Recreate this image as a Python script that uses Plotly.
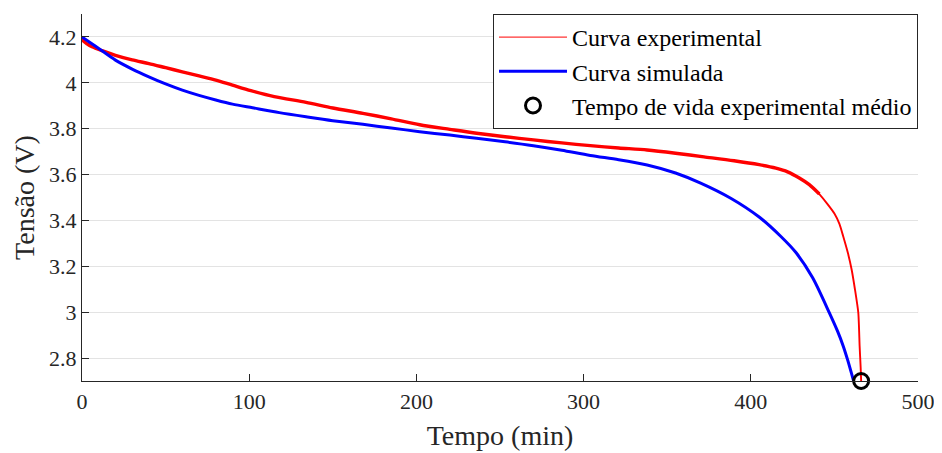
import plotly.graph_objects as go

# Experimental curve: flat/noisy part and steep end
exp_t_a = [0, 0.5, 3, 6, 12, 20, 30, 40, 50, 60, 70, 80, 90, 101, 115, 134, 150, 168, 185, 202,
           220, 236, 253, 270, 287, 304, 321, 338, 355, 372, 390, 405, 415, 422, 429, 435, 441]
exp_v_a = [4.20, 4.185, 4.17, 4.157, 4.14, 4.12, 4.10, 4.084, 4.066, 4.048, 4.03, 4.012, 3.99, 3.966,
           3.94, 3.915, 3.89, 3.867, 3.843, 3.817, 3.797, 3.78, 3.765, 3.751, 3.738, 3.726, 3.716,
           3.707, 3.693, 3.677, 3.66, 3.643, 3.628, 3.612, 3.585, 3.556, 3.515]
exp_t_b = [429, 435, 441, 446, 450, 453, 455.3, 458, 460.3, 462.3, 464.3, 465.1, 465.7, 466]
exp_v_b = [3.585, 3.556, 3.515, 3.47, 3.43, 3.385, 3.33, 3.26, 3.186, 3.099, 2.997, 2.85, 2.76, 2.70]

# Simulated curve
sim_t = [0, 5, 10, 20, 30, 40, 50, 60, 70, 80, 90, 102, 118, 134, 150, 168, 185, 202, 220, 236,
         253, 270, 287, 304, 321, 338, 355, 370, 388, 405, 418, 427, 437, 447, 452, 455.3, 458, 461.5]
sim_v = [4.20, 4.175, 4.15, 4.099, 4.06, 4.026, 3.995, 3.968, 3.945, 3.925, 3.907, 3.891, 3.87,
         3.852, 3.835, 3.819, 3.803, 3.787, 3.772, 3.758, 3.743, 3.726, 3.706, 3.683, 3.665, 3.642,
         3.607, 3.563, 3.497, 3.415, 3.33, 3.26, 3.15, 2.997, 2.915, 2.852, 2.79, 2.70]

# Mean experimental lifetime
life_t = [466]
life_v = [2.70]

yticks = [2.8, 3.0, 3.2, 3.4, 3.6, 3.8, 4.0, 4.2]
yticktext = ["2.8", "3", "3.2", "3.4", "3.6", "3.8", "4", "4.2"]
xticks = [0, 100, 200, 300, 400, 500]

FONT = "Liberation Serif, Times New Roman, serif"
AX = "#262626"

fig = go.Figure()
fig.add_trace(go.Scatter(x=exp_t_b, y=exp_v_b, mode="lines",
                         line=dict(color="#ff0000", width=1.9, shape="spline", smoothing=0.6),
                         showlegend=False, hoverinfo="skip"))
fig.add_trace(go.Scatter(x=exp_t_a, y=exp_v_a, mode="lines",
                         line=dict(color="#ff0000", width=3.4, shape="spline", smoothing=0.8),
                         showlegend=False, hoverinfo="skip"))
fig.add_trace(go.Scatter(x=[None], y=[None], mode="lines", line=dict(color="#ff0000", width=1),
                         name="Curva experimental"))
fig.add_trace(go.Scatter(x=sim_t, y=sim_v, mode="lines",
                         line=dict(color="#0000ff", width=3, shape="spline", smoothing=0.8),
                         name="Curva simulada"))
fig.add_trace(go.Scatter(x=life_t, y=life_v, mode="markers", cliponaxis=False,
                         marker=dict(symbol="circle-open", size=15, color="black", line=dict(width=3, color="black")),
                         name="Tempo de vida experimental médio"))

# page body has an 8px margin, so the figure is sized/offset to compensate
fig.update_layout(
    width=934, height=445,
    margin=dict(l=74, r=24, t=6, b=72, autoexpand=False),
    paper_bgcolor="white", plot_bgcolor="white",
    font=dict(family=FONT, size=22, color="black"),
    legend=dict(x=1, y=1, xanchor="right", yanchor="top", bgcolor="white",
                bordercolor="#262626", borderwidth=1, font=dict(family=FONT, size=24, color="black"),
                tracegroupgap=0, itemwidth=68),
    xaxis=dict(range=[0, 500], tickvals=xticks, ticks="inside", ticklen=7, tickcolor=AX,
               showline=True, linecolor=AX, linewidth=1.3, showgrid=False, zeroline=False,
               automargin=False,
               tickfont=dict(family=FONT, size=22, color=AX),
               title=dict(text="Tempo (min)", font=dict(family=FONT, size=28, color=AX), standoff=12)),
    yaxis=dict(range=[2.7, 4.3], tickvals=yticks, ticktext=yticktext, ticks="inside", ticklen=7,
               tickcolor=AX, showline=True, linecolor=AX, linewidth=1.3, showgrid=True,
               gridcolor="#e3e3e3", gridwidth=1, zeroline=False, automargin=False,
               tickfont=dict(family=FONT, size=22, color=AX),
               title=dict(text="Tensão (V)", font=dict(family=FONT, size=28, color=AX), standoff=6)),
)

fig.write_html("out.html")
